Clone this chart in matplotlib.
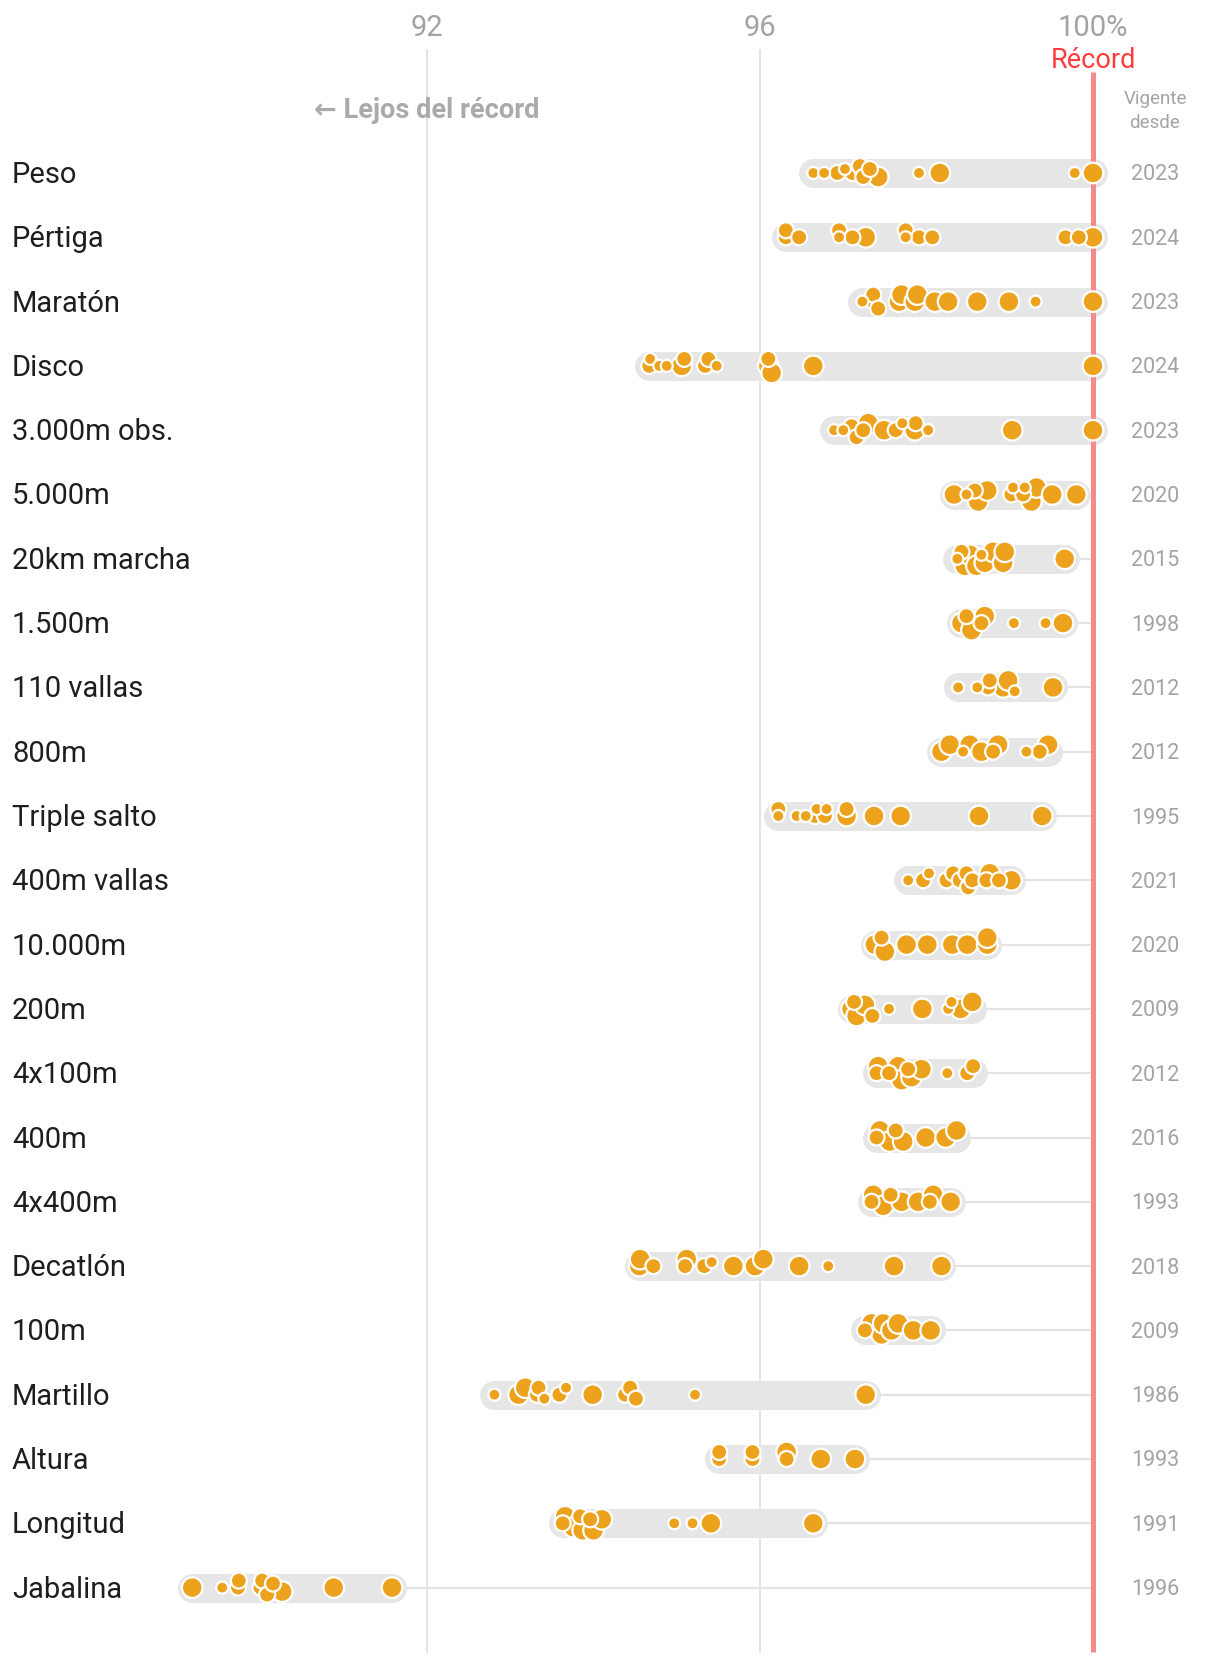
import numpy as np
import matplotlib.pyplot as plt

# events, top to bottom
pruebas = ['Peso', 'Pértiga', 'Maratón', 'Disco', '3.000m obs.', '5.000m',
           '20km marcha', '1.500m', '110 vallas', '800m', 'Triple salto',
           '400m vallas', '10.000m', '200m', '4x100m', '400m', '4x400m',
           'Decatlón', '100m', 'Martillo', 'Altura', 'Longitud', 'Jabalina']
vigente = ['2023', '2024', '2023', '2024', '2023', '2020', '2015', '1998',
           '2012', '2012', '1995', '2021', '2020', '2009', '2012', '2016',
           '1993', '2018', '2009', '1986', '1993', '1991', '1996']

# % of the world record for each championship mark
marcas = [
    [96.64, 96.77, 96.93, 97.02, 97.11, 97.20, 97.24, 97.32, 97.42, 97.91, 98.16, 99.78, 100.0],
    [96.31, 96.31, 96.47, 96.95, 96.95, 97.11, 97.27, 97.75, 97.75, 97.91, 98.07, 99.67, 99.83, 100.0],
    [97.23, 97.36, 97.36, 97.42, 97.67, 97.70, 97.86, 97.89, 98.10, 98.26, 98.61, 98.99, 99.31, 100.0],
    [94.67, 94.68, 94.79, 94.88, 95.06, 95.09, 95.34, 95.38, 95.48, 96.10, 96.10, 96.14, 96.64, 100.0],
    [96.89, 97.00, 97.10, 97.16, 97.24, 97.30, 97.49, 97.63, 97.71, 97.86, 97.87, 98.02, 99.03, 100.0],
    [98.33, 98.48, 98.58, 98.62, 98.73, 99.02, 99.04, 99.16, 99.18, 99.26, 99.32, 99.51, 99.80],
    [98.37, 98.42, 98.46, 98.52, 98.60, 98.66, 98.70, 98.80, 98.92, 98.94, 99.66],
    [98.42, 98.48, 98.54, 98.66, 98.70, 99.05, 99.43, 99.64],
    [98.38, 98.61, 98.74, 98.76, 98.92, 98.98, 99.06, 99.52],
    [98.18, 98.28, 98.44, 98.52, 98.66, 98.80, 98.86, 99.20, 99.36, 99.46],
    [96.22, 96.22, 96.44, 96.55, 96.66, 96.68, 96.78, 96.80, 97.04, 97.04, 97.37, 97.69, 98.63, 99.39],
    [97.78, 97.96, 98.03, 98.24, 98.32, 98.40, 98.48, 98.50, 98.55, 98.72, 98.76, 98.87, 99.02],
    [97.38, 97.46, 97.50, 97.76, 98.01, 98.31, 98.49, 98.73, 98.73],
    [97.10, 97.13, 97.16, 97.26, 97.35, 97.55, 97.95, 98.26, 98.30, 98.41, 98.55],
    [97.40, 97.42, 97.55, 97.66, 97.70, 97.78, 97.82, 97.94, 98.25, 98.49, 98.56],
    [97.40, 97.44, 97.56, 97.63, 97.72, 97.99, 98.23, 98.36],
    [97.34, 97.36, 97.48, 97.57, 97.70, 97.90, 98.04, 98.08, 98.29],
    [94.55, 94.56, 94.72, 95.10, 95.12, 95.33, 95.42, 95.68, 95.94, 96.04, 96.47, 96.82, 97.61, 98.18],
    [97.26, 97.34, 97.46, 97.48, 97.58, 97.66, 97.84, 98.05],
    [92.81, 93.10, 93.18, 93.32, 93.34, 93.41, 93.59, 93.67, 93.99, 94.38, 94.44, 94.51, 95.22, 97.27],
    [95.51, 95.51, 95.91, 95.91, 96.32, 96.32, 96.73, 97.14],
    [93.63, 93.66, 93.76, 93.84, 93.87, 93.96, 94.00, 94.10, 94.97, 95.19, 95.41, 96.64],
    [89.18, 89.54, 89.73, 89.74, 90.00, 90.02, 90.08, 90.15, 90.26, 90.88, 91.58],
]
# size class of each mark (1 small, 2 medium, 3 large)
tamano = [
    [1, 1, 2, 1, 2, 2, 2, 2, 3, 1, 3, 1, 3],
    [2, 2, 2, 1, 2, 2, 3, 1, 2, 2, 2, 2, 2, 3],
    [1, 2, 2, 2, 3, 3, 3, 3, 3, 3, 3, 3, 1, 3],
    [2, 1, 1, 1, 3, 2, 2, 2, 1, 3, 2, 3, 3, 3],
    [1, 1, 2, 2, 2, 3, 3, 2, 1, 3, 2, 1, 3, 3],
    [3, 1, 2, 3, 3, 2, 1, 2, 1, 3, 3, 3, 3],
    [1, 2, 3, 3, 3, 1, 3, 3, 3, 3, 3],
    [3, 2, 3, 2, 3, 1, 1, 3],
    [1, 1, 2, 2, 3, 3, 1, 3],
    [3, 3, 1, 3, 3, 2, 3, 1, 2, 3],
    [1, 2, 1, 1, 2, 1, 2, 1, 3, 2, 3, 3, 3, 3],
    [1, 2, 1, 2, 2, 2, 2, 2, 2, 2, 3, 2, 3],
    [3, 2, 3, 3, 3, 3, 3, 3, 3],
    [3, 2, 3, 3, 2, 1, 3, 1, 1, 3, 3],
    [2, 3, 2, 3, 3, 2, 3, 3, 1, 2, 2],
    [2, 3, 3, 2, 3, 3, 3, 3],
    [2, 3, 3, 2, 3, 3, 2, 3, 3],
    [3, 3, 2, 2, 3, 2, 1, 3, 3, 3, 3, 1, 3, 3],
    [2, 3, 3, 3, 3, 3, 3, 3],
    [1, 3, 3, 2, 2, 1, 2, 1, 3, 2, 2, 2, 1, 3],
    [2, 2, 2, 2, 2, 3, 3, 3],
    [2, 3, 3, 2, 3, 2, 3, 3, 1, 1, 3, 3],
    [3, 1, 2, 2, 2, 2, 2, 2, 3, 3, 3],
]
ticks = [92, 96, 100]

W, H = 1220, 1662
PX = 83.25          # pixels per percentage point
X92 = 427           # pixel column of the 92 line
ROW0, ROWSTEP = 173, 64.3
radio = {1: 6.0, 2: 8.0, 3: 10.3}
naranja = '#eca21c'
gris = '#a3a3a3'
FONT = ['Roboto', 'DejaVu Sans']


def px(v):
    # pixel width -> points at dpi 100
    return v * 0.72


def dodge(vals, rads):
    # small vertical shifts so overlapping dots spread a little
    order = np.argsort(vals, kind='stable')
    offs = np.zeros(len(vals))
    placed = []
    cands = [0, -4, 4, -7, 7]
    for i in order:
        best, bestd = 0, -1e9
        for c in cands:
            d = min([np.hypot((vals[i] - vals[j]) * PX, c - offs[j]) - 0.6 * (rads[i] + rads[j])
                     for j in placed] or [99])
            if d >= 0:
                best = c
                break
            if d > bestd:
                best, bestd = c, d
        offs[i] = best
        placed.append(i)
    return offs


fig = plt.figure(figsize=(W / 100, H / 100), dpi=100)
ax = fig.add_axes([0, 0, 1, 1])
ax.set_xlim(92 - X92 / PX, 92 + (W - X92) / PX)
ax.set_ylim(H, 0)
ax.axis('off')

for t in ticks[:2]:
    ax.plot([t, t], [50, 1652], color='#e3e3e3', lw=1.4, zorder=0)
ax.plot([100, 100], [72, 1652], color='#f58a8a', lw=px(5), zorder=3,
        solid_capstyle='butt')

for t in ticks:
    ax.text(t, 28, f'{t}%' if t == 100 else str(t), ha='center', va='center',
            fontsize=21, color=gris, family=FONT)
ax.text(100, 60, 'Récord', ha='center', va='center', fontsize=19.5,
        color='#ff3c3c', family=FONT)
ax.text(92, 110, '← Lejos del récord', ha='center', va='center', fontsize=19.5,
        color='#aaaaaa', family=FONT, fontweight='bold')
ax.text(92 + (1155 - X92) / PX, 111, 'Vigente\ndesde', ha='center', va='center',
        fontsize=13.5, color=gris, family=FONT, linespacing=1.4)

x_label = 92 + (12 - X92) / PX
x_year = 92 + (1155 - X92) / PX
for i, (nombre, anio, vals, tam) in enumerate(zip(pruebas, vigente, marcas, tamano)):
    y = ROW0 + ROWSTEP * i
    vals = np.array(vals)
    rads = np.array([radio[k] for k in tam])
    ax.text(x_label, y + 2, nombre, ha='left', va='center', fontsize=21,
            color='#1e1e1e', family=FONT)
    ax.text(x_year, y + 2, anio, ha='center', va='center', fontsize=15.5,
            color=gris, family=FONT)
    if vals.max() < 100:
        ax.plot([vals.max(), 100], [y, y], color='#e3e3e3', lw=1.5, zorder=1)
    ax.plot([vals.min(), vals.max()], [y, y], color='#e6e6e6', lw=px(29),
            solid_capstyle='round', zorder=2)
    offs = dodge(vals, rads)
    zo = np.argsort(-rads, kind='stable')
    ax.scatter(vals[zo], y + offs[zo], s=(px(2 * rads[zo])) ** 2, color=naranja,
               edgecolors='white', linewidths=1.6, zorder=4)

fig.savefig('out.png', dpi=100)
